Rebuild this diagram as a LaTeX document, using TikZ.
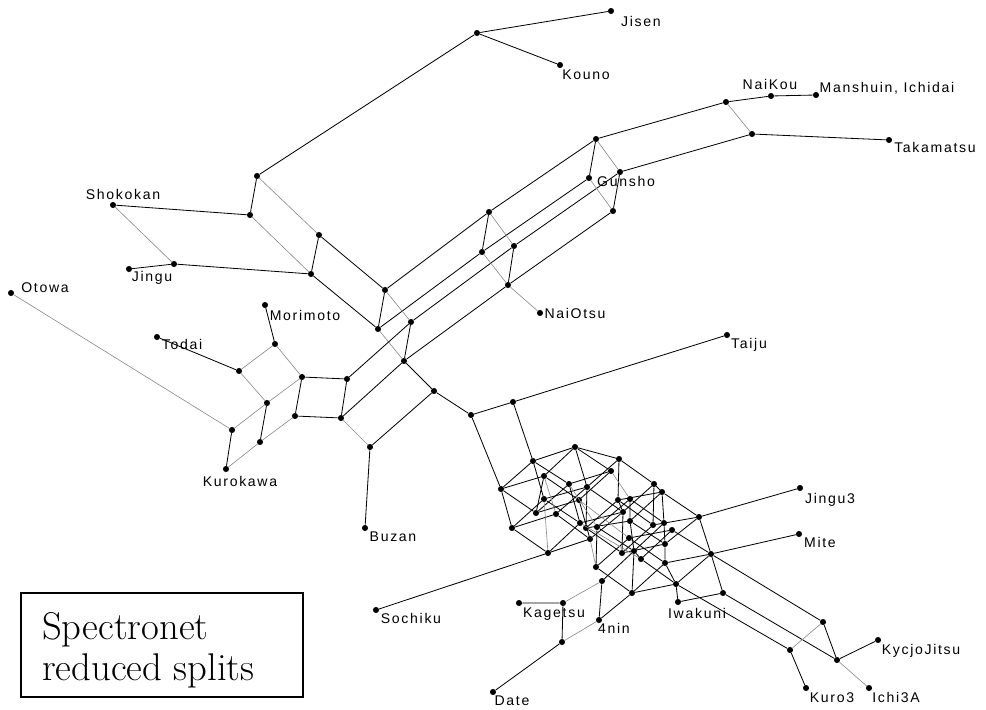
\documentclass[tikz,border=0pt]{standalone}
\usepackage{fontspec}
\newfontfamily\lblfont{Liberation Sans}[LetterSpace=12]
\tikzset{
	dot/.style={circle,fill=black,inner sep=0pt,minimum size=5.2pt},
	lbl/.style={font=\lblfont\fontsize{12}{14}\selectfont,inner sep=0pt,anchor=base},
	link/.style={black,line width=0.7pt},
	weak/.style={black!45,line width=0.55pt},
}
\begin{document}
\begin{tikzpicture}[x=0.03cm,y=-0.03cm]
	\useasboundingbox (0,0) rectangle (986,710);
	% leaves
	\node[dot] (jisen) at (611,11) {};
	\node[dot] (kouno) at (560,65) {};
	\node[dot] (naikou) at (771,96) {};
	\node[dot] (manshuin) at (816,95) {};
	\node[dot] (takamatsu) at (889,140) {};
	\node[dot] (shokokan) at (113,205) {};
	\node[dot] (jingu) at (129,269) {};
	\node[dot] (otowa) at (11,293) {};
	\node[dot] (morimoto) at (265,305) {};
	\node[dot] (todai) at (157,337) {};
	\node[dot] (naiotsu) at (540,313) {};
	\node[dot] (taiju) at (727,335) {};
	\node[dot] (kurokawa) at (226,469) {};
	\node[dot] (buzan) at (365,528) {};
	\node[dot] (jingu3) at (800,488) {};
	\node[dot] (mite) at (799,534) {};
	\node[dot] (sochiku) at (376,610) {};
	\node[dot] (kagetsu) at (519,603) {};
	\node[dot] (date) at (493,692) {};
	\node[dot] (kyojo) at (878,640) {};
	\node[dot] (kuro3) at (806,688) {};
	\node[dot] (ichi3a) at (869,688) {};
	% upper band
	\node[dot] (j0) at (477,33) {};
	\node[dot] (a1) at (257,176) {};
	\node[dot] (a2) at (250,215) {};
	\node[dot] (a3) at (319,235) {};
	\node[dot] (a4) at (311,274) {};
	\node[dot] (a5) at (385,290) {};
	\node[dot] (a6) at (378,329) {};
	\node[dot] (jg) at (174,264) {};
	\node[dot] (b1) at (489,212) {};
	\node[dot] (b2) at (482,252) {};
	\node[dot] (b3) at (514,246) {};
	\node[dot] (b4) at (508,285) {};
	\node[dot] (d1) at (596,139) {};
	\node[dot] (d2) at (589,178) {};
	\node[dot] (d3) at (620,172) {};
	\node[dot] (d4) at (613,211) {};
	\node[dot] (c1) at (726,102) {};
	\node[dot] (c2) at (752,134) {};
	\node[dot] (e1) at (411,322) {};
	\node[dot] (e2) at (404,361) {};
	% left part
	\node[dot] (mr) at (275,344) {};
	\node[dot] (td) at (239,371) {};
	\node[dot] (s1) at (302,377) {};
	\node[dot] (s2) at (347,379) {};
	\node[dot] (s3) at (295,416) {};
	\node[dot] (s4) at (341,418) {};
	\node[dot] (kw1) at (267,403) {};
	\node[dot] (kw2) at (260,442) {};
	\node[dot] (ow) at (232,430) {};
	\node[dot] (bz) at (370,447) {};
	\node[dot] (f1) at (434,391) {};
	\node[dot] (f2) at (471,415) {};
	\node[dot] (g1) at (513,402) {};
	% tangle
	\node[dot] (t1) at (575,447) {};
	\node[dot] (t2) at (533,461) {};
	\node[dot] (t3) at (619,459) {};
	\node[dot] (t4) at (501,489) {};
	\node[dot] (t5) at (544,476) {};
	\node[dot] (t6) at (569,484) {};
	\node[dot] (t7) at (587,487) {};
	\node[dot] (t8) at (611,471) {};
	\node[dot] (t9) at (654,484) {};
	\node[dot] (t10) at (662,492) {};
	\node[dot] (t11) at (544,499) {};
	\node[dot] (t12) at (579,500) {};
	\node[dot] (t13) at (618,500) {};
	\node[dot] (t14) at (630,499) {};
	\node[dot] (t15) at (536,513) {};
	\node[dot] (t16) at (556,514) {};
	\node[dot] (t17) at (623,512) {};
	\node[dot] (t18) at (630,521) {};
	\node[dot] (t19) at (512,528) {};
	\node[dot] (t20) at (580,523) {};
	\node[dot] (t21) at (586,528) {};
	\node[dot] (t22) at (597,527) {};
	\node[dot] (t23) at (653,525) {};
	\node[dot] (t24) at (664,523) {};
	\node[dot] (t25) at (672,530) {};
	\node[dot] (t26) at (699,517) {};
	\node[dot] (t27) at (590,539) {};
	\node[dot] (t28) at (629,538) {};
	\node[dot] (t29) at (665,544) {};
	\node[dot] (t30) at (622,553) {};
	\node[dot] (t31) at (634,551) {};
	\node[dot] (t32) at (641,559) {};
	\node[dot] (t33) at (548,553) {};
	\node[dot] (t34) at (596,567) {};
	\node[dot] (t35) at (665,563) {};
	\node[dot] (t36) at (711,554) {};
	\node[dot] (t37) at (676,584) {};
	\node[dot] (t38) at (632,593) {};
	\node[dot] (t39) at (678,602) {};
	\node[dot] (t40) at (723,593) {};
	% lower part
	\node[dot] (kg1) at (563,603) {};
	\node[dot] (kg2) at (562,642) {};
	\node[dot] (fa) at (602,581) {};
	\node[dot] (fourn) at (599,620) {};
	\node[dot] (x1) at (823,622) {};
	\node[dot] (x2) at (790,650) {};
	\node[dot] (x3) at (837,660) {};

	% labels
	\node[lbl] (jisenl) at (641,27) {Jisen};
	\node[lbl] (kounol) at (586,80) {Kouno};
	\node[lbl] (naikoul) at (770,90) {NaiKou};
	\node[lbl] (manshuinl) at (887,93) {Manshuin, Ichidai};
	\node[lbl] (takamatsul) at (935,153) {Takamatsu};
	\node[lbl] (gunshol) at (626,187) {Gunsho};
	\node[lbl] (naiotsul) at (575,318) {NaiOtsu};
	\node[lbl] (taijul) at (749,348) {Taiju};
	\node[lbl] (shokokanl) at (123,200) {Shokokan};
	\node[lbl] (jingul) at (152,282) {Jingu};
	\node[lbl] (otowal) at (45,292) {Otowa};
	\node[lbl] (morimotol) at (305,320) {Morimoto};
	\node[lbl] (todail) at (182,349) {Todai};
	\node[lbl] (kurokawal) at (240,486) {Kurokawa};
	\node[lbl] (buzanl) at (393,541) {Buzan};
	\node[lbl] (sochikul) at (411,623) {Sochiku};
	\node[lbl] (kagetsul) at (554,617) {Kagetsu};
	\node[lbl] (fournl) at (614,633) {4nin};
	\node[lbl] (datel) at (512,705) {Date};
	\node[lbl] (iwakunil) at (697,618) {Iwakuni};
	\node[lbl] (jingu3l) at (830,503) {Jingu3};
	\node[lbl] (mitel) at (820,547) {Mite};
	\node[lbl] (kyojol) at (921,654) {KycjoJitsu};
	\node[lbl] (kuro3l) at (832,702) {Kuro3};
	\node[lbl] (ichi3al) at (896,702) {Ichi3A};

	% upper band
	\draw[link] (jisen) -- (j0) -- (kouno);
	\draw[link] (j0) -- (a1) -- (a2) -- (shokokan);
	\draw[weak] (a1) -- (a3) (a2) -- (a4) (shokokan) -- (jg);
	\draw[link] (jingu) -- (jg) -- (a4) -- (a3) -- (a5) -- (a6) -- (a4);
	\draw[link] (a5) -- (b1) -- (d1) -- (c1) -- (naikou) -- (manshuin);
	\draw[link] (a6) -- (b2) -- (d2) (e1) -- (b3) -- (d3) -- (c2) -- (takamatsu);
	\draw[link] (e2) -- (b4) -- (d4);
	\draw[link] (b1) -- (b2) (b3) -- (b4) (d1) -- (d2) (d3) -- (d4) (e1) -- (e2);
	\draw[weak] (a5) -- (e1) (a6) -- (e2) (b1) -- (b3) (b2) -- (b4);
	\draw[weak] (d1) -- (d3) (d2) -- (d4) (c1) -- (c2) (b4) -- (naiotsu);
	% left part
	\draw[link] (todai) -- (td) (morimoto) -- (mr);
	\draw[link] (s1) -- (s2) -- (s4) -- (s3) -- (s1);
	\draw[link] (kw1) -- (kw2) (ow) -- (kurokawa);
	\draw[link] (s2) -- (e1) (s4) -- (e2) -- (f1);
	\draw[weak] (otowa) -- (ow) (mr) -- (td) (mr) -- (s1) (td) -- (kw1);
	\draw[weak] (s1) -- (kw1) -- (ow) (kw2) -- (kurokawa) (kw2) -- (s3) (s4) -- (bz);
	\draw[link] (buzan) -- (bz) -- (f1) -- (f2) -- (g1) -- (taiju);
	\draw[link] (f2) -- (t4) (g1) -- (t2);
	% tangle
	\draw[link] (t4) -- (t19) (t2) -- (t11) (t5) -- (t15) (t1) -- (t7) -- (t21)
		(t6) -- (t20) (t12) -- (t27) (t3) -- (t13) -- (t17) -- (t30)
		(t14) -- (t18) -- (t31) -- (t38) (t9) -- (t23)
		(t10) -- (t24) -- (t29) -- (t35) -- (t37) -- (t39)
		(t26) -- (t36) -- (t40) (t22) -- (t34);
	\draw[link] (t19) -- (t33) (t4) -- (t15) (t11) -- (t20) (t5) -- (t12) (t16) -- (t27)
		(t2) -- (t6) (t1) -- (t8) (t7) -- (t17) (t3) -- (t9) -- (t10) -- (t26)
		(t13) -- (t23) (t14) -- (t24) (t18) -- (t29) (t28) -- (t35) (t21) -- (t30)
		(t22) -- (t31) (t34) -- (t38) (t32) -- (t37) (t25) -- (t36);
	\draw[link] (t2) -- (t1) (t4) -- (t5) (t19) -- (t16) (t33) -- (t27) (t11) -- (t7)
		(t15) -- (t12) (t6) -- (t8) (t20) -- (t17) (t21) -- (t18) (t13) -- (t10)
		(t23) -- (t26) (t28) -- (t25) (t30) -- (t29) (t38) -- (t37) (t39) -- (t40)
		(t35) -- (t36);
	\draw[link] (t4) -- (t2) (t19) -- (t11) (t33) -- (t20) (t15) -- (t6) (t16) -- (t7)
		(t5) -- (t1) (t12) -- (t8) (t27) -- (t17) (t21) -- (t13) (t22) -- (t14)
		(t34) -- (t28) (t30) -- (t23) (t31) -- (t24) (t32) -- (t25) (t38) -- (t35)
		(t37) -- (t36) (t17) -- (t9) (t7) -- (t3) (t18) -- (t10) (t29) -- (t26)
		(t1) -- (t3) (t31) -- (t32);
	\draw[weak] (t5) -- (t16) (t6) -- (t22) (t12) -- (t28) (t8) -- (t14)
		(t20) -- (t32) (t11) -- (t33) (t27) -- (t34);
	% lower part
	\draw[link] (kagetsu) -- (kg1) -- (kg2) -- (date);
	\draw[weak] (kg1) -- (fa) (kg2) -- (fourn);
	\draw[link] (fa) -- (fourn) -- (t38) (fa) -- (t31);
	\draw[link] (sochiku) -- (t33) (jingu3) -- (t26) (mite) -- (t36);
	\draw[link] (t36) -- (x1) (t40) -- (x3) (t37) -- (x2);
	\draw[link] (x1) -- (x3) -- (kyojo) (x2) -- (kuro3);
	\draw[weak] (x2) -- (x1) (x3) -- (ichi3a);

	% legend box
	\draw[line width=0.9pt] (21,593) rectangle (303,697);
	\node[anchor=north west,inner sep=0pt,align=left,font=\fontsize{33}{35}\selectfont] (title) at (42,612) {Spectronet\\reduced splits};
\end{tikzpicture}
\end{document}
